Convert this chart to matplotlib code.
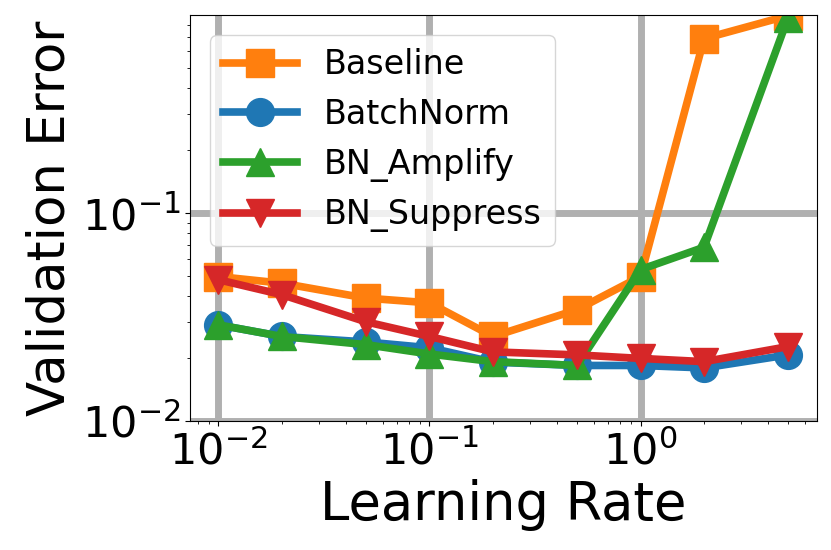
import matplotlib
matplotlib.use("Agg")
import matplotlib.pyplot as plt

lrs = [0.01, 0.02, 0.05, 0.1, 0.2, 0.5, 1, 2, 5]
baseline = [0.0495, 0.0460, 0.0390, 0.0370, 0.0255, 0.0343, 0.0495, 0.69, 0.89]
batchnorm = [0.0290, 0.0255, 0.0240, 0.0225, 0.0192, 0.0185, 0.0185, 0.0180, 0.0208]
bn_amplify = [0.0290, 0.0255, 0.0233, 0.0210, 0.0193, 0.0185, 0.0535, 0.0685, 0.87]
bn_suppress = [0.0478, 0.0405, 0.0300, 0.0255, 0.0215, 0.0208, 0.0200, 0.0193, 0.0228]

series = [
    ("Baseline", baseline, "tab:orange", "s"),
    ("BatchNorm", batchnorm, "tab:blue", "o"),
    ("BN_Amplify", bn_amplify, "tab:green", "^"),
    ("BN_Suppress", bn_suppress, "tab:red", "v"),
]

fig = plt.figure(figsize=(8.31, 5.5), dpi=100)
ax = fig.add_axes([0.2286, 0.2345, 0.754, 0.738])

for name, vals, col, mk in series:
    ax.plot(lrs, vals, color=col, marker=mk, linewidth=5.5, markersize=20, label=name)

ax.set_xscale("log")
ax.set_yscale("log")
ax.set_ylim(0.01, 0.895)
ax.grid(True, which="major", color="#b0b0b0", linewidth=5)
ax.set_axisbelow(True)
ax.tick_params(axis="both", which="major", labelsize=31)
ax.set_xlabel("Learning Rate", fontsize=38)
ax.set_ylabel("Validation Error", fontsize=37)
ax.legend(loc="upper left", fontsize=24, handlelength=2.2, borderaxespad=0.6)

fig.savefig("out.png", dpi=100)
